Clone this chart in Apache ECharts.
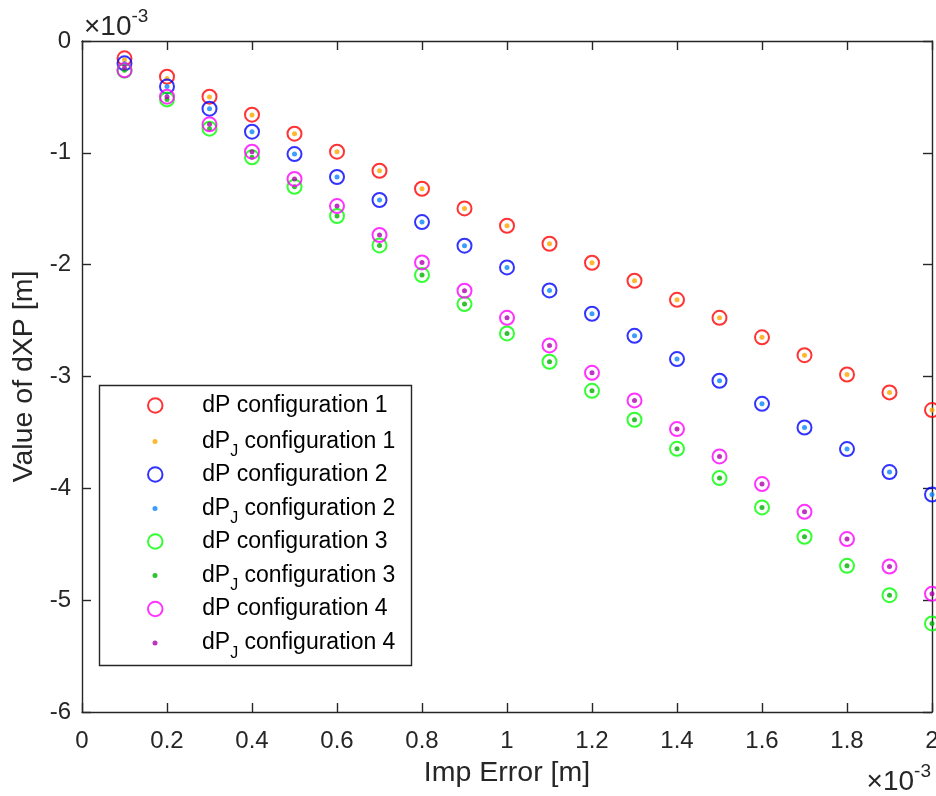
<!DOCTYPE html>
<html>
<head>
<meta charset="utf-8">
<script src="https://cdn.jsdelivr.net/npm/echarts@6/dist/echarts.min.js"></script>
<style>
html,body{margin:0;padding:0;background:#fff;}
#chart{width:936px;height:796px;}
</style>
</head>
<body>
<div id="chart"></div>
<script>
// ---- data (values in units of 1e-3) ----
const xValues = [0.1, 0.2, 0.3, 0.4, 0.5, 0.6, 0.7, 0.8, 0.9, 1.0, 1.1, 1.2, 1.3, 1.4, 1.5, 1.6, 1.7, 1.8, 1.9, 2.0];

const dP1  = [-0.155, -0.319, -0.498, -0.659, -0.829, -0.990, -1.160, -1.321, -1.497, -1.652, -1.813, -1.983, -2.144, -2.314, -2.475, -2.650, -2.809, -2.982, -3.142, -3.300];
const dPJ1 = [-0.168, -0.335, -0.500, -0.662, -0.829, -0.990, -1.160, -1.321, -1.497, -1.652, -1.813, -1.983, -2.144, -2.314, -2.475, -2.650, -2.809, -2.982, -3.142, -3.300];
const dP2  = [-0.200, -0.406, -0.605, -0.811, -1.011, -1.216, -1.422, -1.619, -1.830, -2.025, -2.230, -2.439, -2.636, -2.844, -3.038, -3.244, -3.456, -3.649, -3.855, -4.055];
const dPJ2 = [-0.203, -0.406, -0.605, -0.811, -1.011, -1.216, -1.422, -1.619, -1.830, -2.025, -2.230, -2.439, -2.636, -2.844, -3.038, -3.244, -3.456, -3.649, -3.855, -4.055];
const dP3  = [-0.265, -0.522, -0.784, -1.040, -1.303, -1.565, -1.828, -2.093, -2.352, -2.615, -2.868, -3.128, -3.387, -3.647, -3.908, -4.171, -4.433, -4.693, -4.955, -5.208];
const dPJ3 = [-0.262, -0.522, -0.784, -1.040, -1.303, -1.565, -1.828, -2.093, -2.352, -2.615, -2.868, -3.128, -3.387, -3.647, -3.908, -4.171, -4.433, -4.693, -4.955, -5.208];
const dP4  = [-0.262, -0.498, -0.745, -0.990, -1.234, -1.476, -1.735, -1.980, -2.233, -2.475, -2.722, -2.967, -3.214, -3.470, -3.715, -3.962, -4.210, -4.454, -4.699, -4.943];
const dPJ4 = [-0.240, -0.498, -0.745, -0.990, -1.234, -1.476, -1.735, -1.980, -2.233, -2.475, -2.722, -2.967, -3.214, -3.470, -3.715, -3.962, -4.210, -4.454, -4.699, -4.943];

const seriesNames = [
  'dP configuration 1', 'dP_J configuration 1',
  'dP configuration 2', 'dP_J configuration 2',
  'dP configuration 3', 'dP_J configuration 3',
  'dP configuration 4', 'dP_J configuration 4'
];
const seriesValues = [dP1, dPJ1, dP2, dPJ2, dP3, dPJ3, dP4, dPJ4];
const seriesColors = ['#FF0000', '#FFA500', '#0000FF', '#0A84FF', '#00FF00', '#00B000', '#FF00FF', '#B000B0'];

const xTicks = [0, 0.2, 0.4, 0.6, 0.8, 1, 1.2, 1.4, 1.6, 1.8, 2];
const yTicks = [-6, -5, -4, -3, -2, -1, 0];

const xName = 'Imp Error [m]';
const yName = 'Value of dXP [m]';
const exponentText = '-3';

// ---- styling ----
const FONT = '"Liberation Sans", Arial, Helvetica, sans-serif';
const AX = '#262626';

const isDot = n => n.indexOf('dP_J') === 0;

const series = seriesNames.map((name, i) => ({
  name: name,
  type: 'scatter',
  clip: false,
  symbol: 'circle',
  symbolSize: isDot(name) ? 5 : 14,
  itemStyle: isDot(name)
    ? { color: seriesColors[i], borderWidth: 0 }
    : { color: 'rgba(0,0,0,0)', borderColor: seriesColors[i], borderWidth: 2 },
  emphasis: { disabled: true },
  data: xValues.map((x, k) => [x, seriesValues[i][k]])
}));

const legendCenters = [405, 440, 474, 507, 541, 574, 608.5, 641.5];
const legends = seriesNames.map((name, i) => {
  const dot = isDot(name);
  return {
    data: [name],
    orient: 'vertical',
    left: dot ? 152.5 : 147,
    top: legendCenters[i] - (dot ? 17 : 11),
    padding: 0,
    itemWidth: 84,
    itemHeight: dot ? 5 : 14.5,
    selectedMode: false,
    z: 6,
    itemStyle: dot ? { borderWidth: 0 } : { borderWidth: 2 },
    formatter: n => n.indexOf('dP_J') === 0
      ? '{a|dP}{s|J}{a|' + n.slice(4) + '}'
      : '{a|' + n + '}',
    textStyle: {
      fontFamily: FONT, fontSize: 23, color: '#000',
      rich: {
        a: { fontFamily: FONT, fontSize: 23, lineHeight: 26, color: '#000' },
        s: { fontFamily: FONT, fontSize: 16, lineHeight: 16, color: '#000', padding: [21, 0, 0, 0] }
      }
    }
  };
});

function mkLine() { return { show: true, onZero: false, lineStyle: { color: AX, width: 1.4 } }; }
function mkTick() { return { show: true, inside: true, length: 9, lineStyle: { color: AX, width: 1.4 } }; }
const xStep = xTicks[1] - xTicks[0];
const yStep = yTicks[1] - yTicks[0];

const option = {
  animation: false,
  backgroundColor: '#fff',
  grid: { left: 82, right: 4, top: 41, bottom: 84, containLabel: false, outerBoundsMode: 'none' },
  xAxis: [
    {
      type: 'value', position: 'bottom',
      min: xTicks[0], max: xTicks[xTicks.length - 1], interval: xStep,
      axisLine: mkLine(), axisTick: mkTick(), splitLine: { show: false },
      axisLabel: { show: true, margin: 17, color: AX, fontFamily: FONT, fontSize: 24 },
      name: xName, nameLocation: 'middle', nameGap: 47,
      nameTextStyle: { color: AX, fontFamily: FONT, fontSize: 28.5 }
    },
    {
      type: 'value', position: 'top',
      min: xTicks[0], max: xTicks[xTicks.length - 1], interval: xStep,
      axisLine: mkLine(), axisTick: mkTick(), splitLine: { show: false },
      axisLabel: { show: false }
    }
  ],
  yAxis: [
    {
      type: 'value', position: 'left',
      min: yTicks[0], max: yTicks[yTicks.length - 1], interval: yStep,
      axisLine: mkLine(), axisTick: mkTick(), splitLine: { show: false },
      axisLabel: { show: true, margin: 11, color: AX, fontFamily: FONT, fontSize: 24 },
      name: yName, nameLocation: 'middle', nameGap: 41,
      nameTextStyle: { color: AX, fontFamily: FONT, fontSize: 28.5 }
    },
    {
      type: 'value', position: 'right',
      min: yTicks[0], max: yTicks[yTicks.length - 1], interval: yStep,
      axisLine: mkLine(), axisTick: mkTick(), splitLine: { show: false },
      axisLabel: { show: false }
    }
  ],
  legend: legends,
  graphic: [
    {
      type: 'rect', z: 1,
      shape: { x: 99.5, y: 385.5, width: 312, height: 280 },
      style: { fill: '#fff', stroke: AX, lineWidth: 1.4 }
    },
    {
      type: 'text', z: 10, x: 84, y: 27.5,
      style: {
        text: '{m|×10}{s|' + exponentText + '}',
        align: 'left', verticalAlign: 'middle',
        rich: {
          m: { fontFamily: FONT, fontSize: 28, fill: AX, color: AX },
          s: { fontFamily: FONT, fontSize: 19, fill: AX, color: AX, padding: [0, 0, 22, 0] }
        }
      }
    },
    {
      type: 'text', z: 10, x: 931, y: 782.5,
      style: {
        text: '{m|×10}{s|' + exponentText + '}',
        align: 'right', verticalAlign: 'middle',
        rich: {
          m: { fontFamily: FONT, fontSize: 28, fill: AX, color: AX },
          s: { fontFamily: FONT, fontSize: 19, fill: AX, color: AX, padding: [0, 0, 22, 0] }
        }
      }
    }
  ],
  series: series
};

const chart = echarts.init(document.getElementById('chart'), null, { renderer: 'canvas' });
chart.setOption(option);
</script>
</body>
</html>
